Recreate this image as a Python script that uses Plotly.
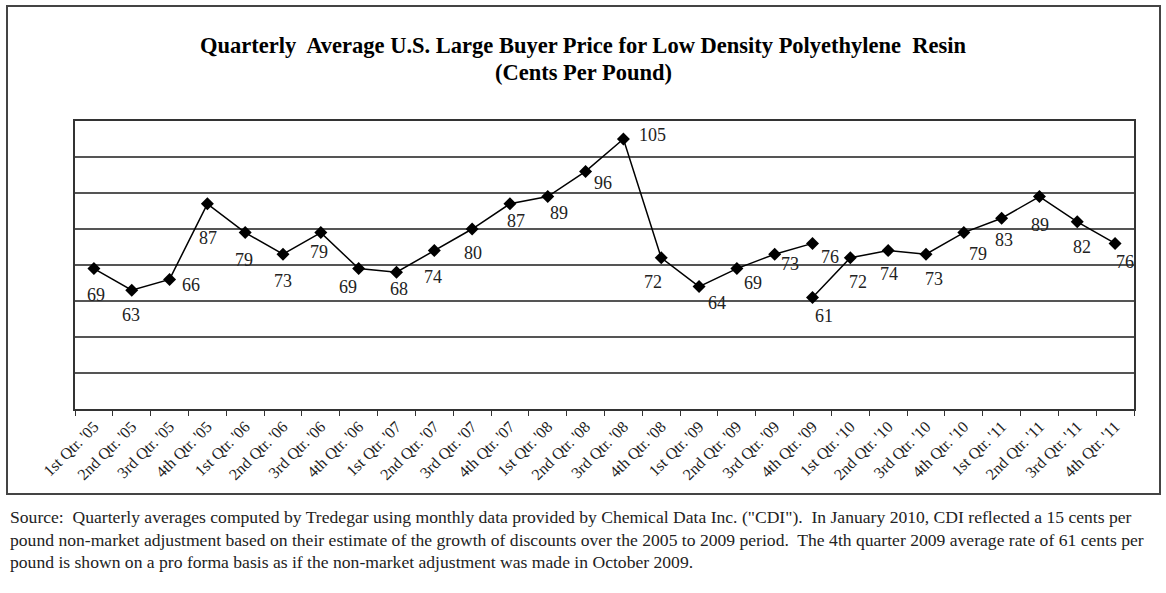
import plotly.graph_objects as go

# ---- data ----
quarters = [
    "1st Qtr. '05", "2nd Qtr. '05", "3rd Qtr. '05", "4th Qtr. '05",
    "1st Qtr. '06", "2nd Qtr. '06", "3rd Qtr. '06", "4th Qtr. '06",
    "1st Qtr. '07", "2nd Qtr. '07", "3rd Qtr. '07", "4th Qtr. '07",
    "1st Qtr. '08", "2nd Qtr. '08", "3rd Qtr. '08", "4th Qtr. '08",
    "1st Qtr. '09", "2nd Qtr. '09", "3rd Qtr. '09", "4th Qtr. '09",
    "1st Qtr. '10", "2nd Qtr. '10", "3rd Qtr. '10", "4th Qtr. '10",
    "1st Qtr. '11", "2nd Qtr. '11", "3rd Qtr. '11", "4th Qtr. '11",
]
prices = [69, 63, 66, 87, 79, 73, 79, 69, 68, 74, 80, 87, 89, 96, 105,
          72, 64, 69, 73, 76, 72, 74, 73, 79, 83, 89, 82, 76]
pro_forma_quarter = "4th Qtr. '09"
pro_forma_price = 61

# label offsets in pixels (dx, dy; dy positive = downward)
label_offsets = [(2, 26), (-1, 25), (21, 6), (1, 34), (-1, 27), (0, 27), (-2, 19),
                 (-11, 18), (3, 17), (-1, 26), (1, 24), (6, 17), (11, 16), (17, 12),
                 (29, -4), (-8, 24), (18, 16), (16, 14), (15, 10), (17, 14),
                 (8, 24), (1, 23), (8, 25), (14, 21), (2, 22), (1, 28), (5, 25), (10, 19)]
pro_forma_offset = (11, 19)

W, H = 1166, 593
L, R, T, B = 75, 1134, 121, 409

split = quarters.index(pro_forma_quarter) + 1
seg1_x, seg1_y = quarters[:split], prices[:split]
seg2_x = [pro_forma_quarter] + quarters[split:]
seg2_y = [pro_forma_price] + prices[split:]

serif = "Liberation Serif, Times New Roman, serif"
line_style = dict(color="black", width=1.5)
marker_style = dict(symbol="diamond", size=10, color="black")

fig = go.Figure()
fig.add_trace(go.Scatter(x=seg1_x, y=seg1_y, mode="lines+markers",
                         line=line_style, marker=marker_style, hoverinfo="x+y"))
fig.add_trace(go.Scatter(x=seg2_x, y=seg2_y, mode="lines+markers",
                         line=line_style, marker=marker_style, hoverinfo="x+y"))

label_font = dict(family=serif, size=18, color="#222")
annotations = []
for q, v, (dx, dy) in zip(quarters, prices, label_offsets):
    annotations.append(dict(x=q, y=v, xref="x", yref="y", text=str(v), showarrow=False,
                            xshift=dx, yshift=-dy, font=label_font))
annotations.append(dict(x=pro_forma_quarter, y=pro_forma_price, xref="x", yref="y",
                        text=str(pro_forma_price), showarrow=False,
                        xshift=pro_forma_offset[0], yshift=-pro_forma_offset[1],
                        font=label_font))

pw, ph = R - L, B - T
def px(xp):
    return (xp - L) / pw
def py(yp):
    return (B - yp) / ph

# title
title_font = dict(family=serif, size=22.5, color="black")
annotations.append(dict(x=px(583), y=py(45), xref="paper", yref="paper", showarrow=False,
                        text="<b>Quarterly  Average U.S. Large Buyer Price for Low Density Polyethylene  Resin</b>",
                        font=title_font, xanchor="center", yanchor="middle"))
annotations.append(dict(x=px(583), y=py(72), xref="paper", yref="paper", showarrow=False,
                        text="<b>(Cents Per Pound)</b>",
                        font=title_font, xanchor="center", yanchor="middle"))

footnote = [
    "Source:  Quarterly averages computed by Tredegar using monthly data provided by Chemical Data Inc. (\"CDI\").  In January 2010, CDI reflected a 15 cents per",
    "pound non-market adjustment based on their estimate of the growth of discounts over the 2005 to 2009 period.  The 4th quarter 2009 average rate of 61 cents per",
    "pound is shown on a pro forma basis as if the non-market adjustment was made in October 2009.",
]
for i, line in enumerate(footnote):
    annotations.append(dict(x=px(8), y=py(517 + 22.5 * i), xref="paper", yref="paper", showarrow=False,
                            text=line, font=dict(family=serif, size=17.6, color="#222"),
                            xanchor="left", yanchor="middle"))

shapes = [
    dict(type="rect", xref="paper", yref="paper", x0=px(7), x1=px(1160), y0=py(494), y1=py(6),
         line=dict(color="#444", width=2), layer="below"),
]

fig.update_layout(
    width=W, height=H,
    margin=dict(l=L, r=W - R, t=T, b=H - B),
    paper_bgcolor="white", plot_bgcolor="white",
    showlegend=False,
    annotations=annotations,
    shapes=shapes,
    xaxis=dict(type="category", categoryorder="array", categoryarray=quarters,
               range=[-0.5, len(quarters) - 0.5],
               tickson="boundaries", ticks="outside", ticklen=5, tickcolor="#333",
               tickangle=-45, tickfont=dict(family=serif, size=16, color="#222"),
               showgrid=False, showline=True, linecolor="#333", linewidth=2, mirror=True,
               zeroline=False, fixedrange=True),
    yaxis=dict(range=[30, 110], dtick=10, tick0=30, showticklabels=False, ticks="",
               showgrid=True, gridcolor="#555", gridwidth=2,
               showline=True, linecolor="#333", linewidth=2, mirror=True,
               zeroline=False, fixedrange=True),
)

fig.write_html("out.html", config={"displayModeBar": False},
               post_script="document.body.style.margin='0';")
